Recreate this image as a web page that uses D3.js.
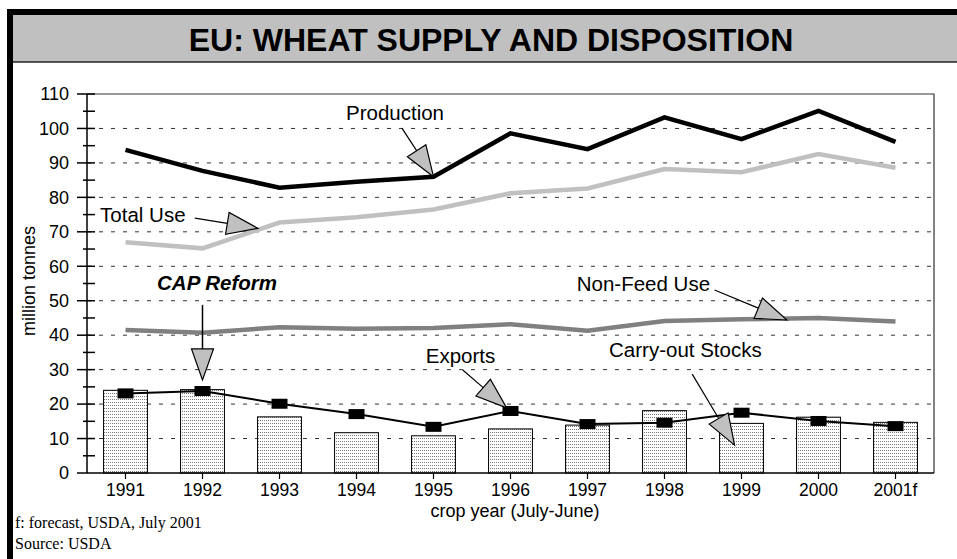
<!DOCTYPE html>
<html>
<head>
<meta charset="utf-8">
<script src="https://cdn.jsdelivr.net/npm/d3@7"></script>
<style>
  body { margin: 0; background: #fff; }
  svg { display: block; font-family: "Liberation Sans", Arial, sans-serif; }
</style>
</head>
<body>
<script>
// crop years (July-June), million tonnes
var years = ["1991", "1992", "1993", "1994", "1995", "1996", "1997", "1998", "1999", "2000", "2001f"];
var production = [93.8, 87.7, 82.8, 84.5, 86.0, 98.6, 94.0, 103.2, 96.9, 105.1, 96.1];
var totalUse   = [67.0, 65.2, 72.7, 74.2, 76.5, 81.2, 82.6, 88.2, 87.3, 92.6, 88.6];
var nonFeedUse = [41.5, 40.7, 42.3, 41.9, 42.1, 43.2, 41.3, 44.1, 44.6, 45.0, 44.0];
var exportsVol = [23.1, 23.8, 20.1, 17.1, 13.4, 18.0, 14.2, 14.6, 17.5, 15.1, 13.6];
var stocks     = [24.0, 24.2, 16.3, 11.7, 10.8, 12.8, 13.9, 18.1, 14.4, 16.2, 14.7];
var yTicks = [0, 10, 20, 30, 40, 50, 60, 70, 80, 90, 100, 110];

var width = 957, height = 559;
var plot = {left: 87, right: 934, top: 94, bottom: 473};

var svg = d3.select("body").append("svg")
    .attr("width", width)
    .attr("height", height);

// stipple fill for the stock bars
var defs = svg.append("defs");
var pat = defs.append("pattern")
    .attr("id", "stipple")
    .attr("width", 2).attr("height", 3)
    .attr("patternUnits", "userSpaceOnUse");
pat.append("rect").attr("width", 2).attr("height", 3).attr("fill", "#fff");
pat.append("rect").attr("width", 1).attr("height", 1).attr("fill", "#7a7a7a");

// frame + title band
svg.append("rect").attr("x", 7).attr("y", 9).attr("width", width - 7).attr("height", 6).attr("fill", "#000");
svg.append("rect").attr("x", 7).attr("y", 9).attr("width", 6).attr("height", height - 9).attr("fill", "#000");
svg.append("rect").attr("x", 13).attr("y", 15).attr("width", width - 13).attr("height", 47).attr("fill", "#c0c0c0");
svg.append("line").attr("x1", 13).attr("x2", width).attr("y1", 62).attr("y2", 62)
    .attr("stroke", "#222").attr("stroke-width", 1.5);
svg.append("text")
    .attr("x", 491).attr("y", 51)
    .attr("text-anchor", "middle")
    .style("font-size", "32px").style("font-weight", "bold")
    .text("EU: WHEAT SUPPLY AND DISPOSITION");

var x = d3.scaleBand()
    .domain(years)
    .range([plot.left, plot.right]);

var y = d3.scaleLinear()
    .domain([0, 110])
    .range([plot.bottom, plot.top]);

// centre of a (possibly fractional) category index, for annotations
var xi = d3.scaleLinear()
    .domain([0, years.length - 1])
    .range([x(years[0]) + x.bandwidth() / 2, x(years[years.length - 1]) + x.bandwidth() / 2]);

function cx(d) { return x(d) + x.bandwidth() / 2; }

// dashed gridlines
svg.append("g").selectAll("line")
    .data(yTicks.filter(function(t) { return t > 0 && t < 110; }))
    .join("line")
    .attr("x1", plot.left).attr("x2", plot.right)
    .attr("y1", function(d) { return y(d); }).attr("y2", function(d) { return y(d); })
    .attr("stroke", "#333").attr("stroke-width", 1)
    .attr("stroke-dasharray", "4,8");

// top + right border of plot
svg.append("path")
    .attr("d", "M" + plot.left + "," + y(110) + "H" + plot.right + "V" + plot.bottom)
    .attr("fill", "none").attr("stroke", "#333").attr("stroke-width", 1.2);

// carry-out stocks bars
var barW = x.bandwidth() * 0.57;
svg.append("g").selectAll("rect")
    .data(years)
    .join("rect")
    .attr("x", function(d) { return cx(d) - barW / 2; })
    .attr("y", function(d, i) { return y(stocks[i]); })
    .attr("width", barW)
    .attr("height", function(d, i) { return y(0) - y(stocks[i]); })
    .attr("fill", "url(#stipple)")
    .attr("stroke", "#000").attr("stroke-width", 1);

// y axis with major / minor ticks
var yAxis = svg.append("g");
yAxis.append("line")
    .attr("x1", plot.left).attr("x2", plot.left)
    .attr("y1", y(110)).attr("y2", y(0))
    .attr("stroke", "#000").attr("stroke-width", 1.5);
yAxis.selectAll("line.major")
    .data(yTicks)
    .join("line").attr("class", "major")
    .attr("x1", plot.left - 10).attr("x2", function(d) { return d === 0 ? plot.left : plot.left + 8; })
    .attr("y1", function(d) { return y(d); }).attr("y2", function(d) { return y(d); })
    .attr("stroke", "#000").attr("stroke-width", 1.5);
yAxis.selectAll("line.minor")
    .data(d3.range(5, 110, 10))
    .join("line").attr("class", "minor")
    .attr("x1", plot.left - 4).attr("x2", plot.left + 8)
    .attr("y1", function(d) { return y(d); }).attr("y2", function(d) { return y(d); })
    .attr("stroke", "#000").attr("stroke-width", 1.5);
yAxis.selectAll("text")
    .data(yTicks)
    .join("text")
    .attr("x", plot.left - 18)
    .attr("y", function(d) { return y(d); })
    .attr("dy", "0.35em")
    .attr("text-anchor", "end")
    .style("font-size", "18px")
    .text(function(d) { return d; });

// x axis
var xAxis = svg.append("g");
xAxis.append("line")
    .attr("x1", plot.left).attr("x2", plot.right)
    .attr("y1", y(0)).attr("y2", y(0))
    .attr("stroke", "#000").attr("stroke-width", 1.5);
xAxis.selectAll("line.tick")
    .data(years)
    .join("line").attr("class", "tick")
    .attr("x1", cx).attr("x2", cx)
    .attr("y1", y(0)).attr("y2", y(0) + 6)
    .attr("stroke", "#000").attr("stroke-width", 1.2);
xAxis.selectAll("text")
    .data(years)
    .join("text")
    .attr("x", cx)
    .attr("y", y(0) + 23)
    .attr("text-anchor", "middle")
    .style("font-size", "17.5px")
    .text(function(d) { return d; });

svg.append("text")
    .attr("x", 515).attr("y", 517)
    .attr("text-anchor", "middle")
    .style("font-size", "18px")
    .text("crop year (July-June)");

svg.append("text")
    .attr("transform", "translate(35," + 281 + ") rotate(-90)")
    .attr("text-anchor", "middle")
    .style("font-size", "18px")
    .text("million tonnes");

// series lines
function seriesLine(vals) {
    return d3.line()
        .x(function(d, i) { return cx(years[i]); })
        .y(function(d) { return y(d); })(vals);
}

svg.append("path").attr("d", seriesLine(nonFeedUse))
    .attr("fill", "none").attr("stroke", "#808080").attr("stroke-width", 4.5);
svg.append("path").attr("d", seriesLine(totalUse))
    .attr("fill", "none").attr("stroke", "#c0c0c0").attr("stroke-width", 4.5);
svg.append("path").attr("d", seriesLine(production))
    .attr("fill", "none").attr("stroke", "#000").attr("stroke-width", 4.5);
svg.append("path").attr("d", seriesLine(exportsVol))
    .attr("fill", "none").attr("stroke", "#000").attr("stroke-width", 2);

svg.append("g").selectAll("rect")
    .data(exportsVol)
    .join("rect")
    .attr("x", function(d, i) { return cx(years[i]) - 8; })
    .attr("y", function(d) { return y(d) - 5; })
    .attr("width", 16).attr("height", 10)
    .attr("fill", "#000");

// annotations: label + leader + gray arrowhead (positions in index/value units)
var notes = [
    {text: "Production", tx: 3.5, ty: 102.5, anchor: "middle", from: [3.59, 100.1], to: [4, 86.0]},
    {text: "Total Use", tx: -0.33, ty: 72.9, anchor: "start", from: [0.9, 74.0], to: [1.72, 71.0]},
    {text: "CAP Reform", tx: 0.41, ty: 53.1, anchor: "start", from: [1, 48.8], to: [1, 27.0], bold: true},
    {text: "Exports", tx: 3.9, ty: 31.9, anchor: "start", from: [4.38, 29.9], to: [4.95, 18.9]},
    {text: "Non-Feed Use", tx: 5.86, ty: 52.8, anchor: "start", from: [7.65, 53.1], to: [8.59, 44.4]},
    {text: "Carry-out Stocks", tx: 6.28, ty: 33.7, anchor: "start", from: [7.36, 28.7], to: [7.91, 8.1]}
];

var headLen = 31, headHalf = 11;
var ann = svg.append("g");
notes.forEach(function(n) {
    var x0 = xi(n.from[0]), y0 = y(n.from[1]);
    var x1 = xi(n.to[0]), y1 = y(n.to[1]);
    var dx = x1 - x0, dy = y1 - y0, len = Math.sqrt(dx * dx + dy * dy);
    var ux = dx / len, uy = dy / len;
    var bx = x1 - ux * headLen, by = y1 - uy * headLen;

    ann.append("line")
        .attr("x1", x0).attr("y1", y0).attr("x2", bx).attr("y2", by)
        .attr("stroke", "#000").attr("stroke-width", n.bold ? 1.5 : 1.2);
    ann.append("path")
        .attr("d", "M" + x1 + "," + y1 +
            "L" + (bx - uy * headHalf) + "," + (by + ux * headHalf) +
            "L" + (bx + uy * headHalf) + "," + (by - ux * headHalf) + "Z")
        .attr("fill", "#c0c0c0").attr("stroke", "#000").attr("stroke-width", 1.2);
    ann.append("text")
        .attr("x", xi(n.tx)).attr("y", y(n.ty))
        .attr("text-anchor", n.anchor)
        .style("font-size", "20.5px")
        .style("font-weight", n.bold ? "bold" : null)
        .style("font-style", n.bold ? "italic" : null)
        .text(n.text);
});

// footnotes
svg.append("text")
    .attr("x", 15).attr("y", 528)
    .style("font-family", "'Liberation Serif', 'Times New Roman', serif")
    .style("font-size", "16px")
    .text("f: forecast, USDA, July 2001");
svg.append("text")
    .attr("x", 15).attr("y", 549)
    .style("font-family", "'Liberation Serif', 'Times New Roman', serif")
    .style("font-size", "16px")
    .text("Source: USDA");
</script>
</body>
</html>
